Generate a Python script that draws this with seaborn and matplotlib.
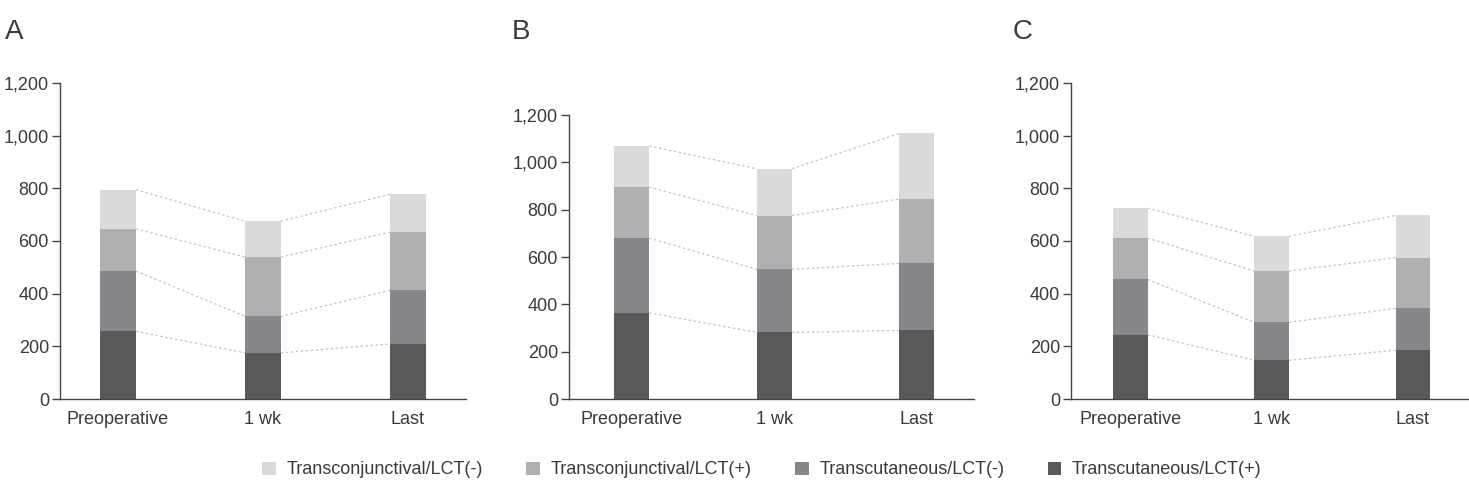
import numpy as np
import pandas as pd
import matplotlib
matplotlib.use("Agg")
import matplotlib.pyplot as plt
import seaborn as sns
from matplotlib.patches import Patch

timepoints = ["Preoperative", "1 wk", "Last"]
series = ["Transcutaneous/LCT(+)", "Transcutaneous/LCT(-)",
          "Transconjunctival/LCT(+)", "Transconjunctival/LCT(-)"]
colors = ["#58595b", "#86878a", "#afb0b2", "#d9dadb"]

# values per panel: one list per series (bottom to top), one value per timepoint
A_tcut_pos = [257, 175, 209]
A_tcut_neg = [229, 139, 204]
A_tconj_pos = [160, 225, 221]
A_tconj_neg = [149, 136, 144]

B_tcut_pos = [364, 281, 290]
B_tcut_neg = [316, 267, 283]
B_tconj_pos = [215, 227, 272]
B_tconj_neg = [174, 198, 277]

C_tcut_pos = [244, 147, 185]
C_tcut_neg = [210, 144, 159]
C_tconj_pos = [157, 195, 193]
C_tconj_neg = [114, 132, 160]

panels = {
    "A": [A_tcut_pos, A_tcut_neg, A_tconj_pos, A_tconj_neg],
    "B": [B_tcut_pos, B_tcut_neg, B_tconj_pos, B_tconj_neg],
    "C": [C_tcut_pos, C_tcut_neg, C_tconj_pos, C_tconj_neg],
}
yticks = [0, 200, 400, 600, 800, 1000, 1200]

sns.set_theme(style="white")
plt.rcParams["font.family"] = ["Liberation Sans", "DejaVu Sans"]
txt = "#3a3a3a"

fig = plt.figure(figsize=(14.69, 4.84), dpi=100)
W, H = 1469, 484
boxes = {
    "A": (60, 466, 83, 399, -0.40, 2.40),
    "B": (569, 974, 115, 399, -0.44, 2.40),
    "C": (1071, 1468, 83, 399, -0.42, 2.39),
}
letter_x = {"A": 5, "B": 512, "C": 1013}
bw = 0.245

for key, vals in panels.items():
    l, r, t, b, x0, x1 = boxes[key]
    ax = fig.add_axes([l / W, (H - b) / H, (r - l) / W, (b - t) / H])
    arr = np.array(vals, dtype=float)
    cum = np.cumsum(arr, axis=0)
    # draw from top (total) down so lower stacks overlay
    for k in range(len(series) - 1, -1, -1):
        df = pd.DataFrame({"time": timepoints, "value": cum[k]})
        sns.barplot(data=df, x="time", y="value", color=colors[k],
                    width=bw, saturation=1, ax=ax, order=timepoints,
                    edgecolor="none", linewidth=0)
    # dashed connector lines
    for k in range(len(series)):
        for i in range(len(timepoints) - 1):
            ax.plot([i + bw / 2, i + 1 - bw / 2], [cum[k][i], cum[k][i + 1]],
                    ls=(0, (2, 2)), color="#c4c4c4", lw=0.9, zorder=0)
    ax.set_xlim(x0, x1)
    ax.set_ylim(0, 1200)
    ax.set_yticks(yticks)
    ax.set_yticklabels([f"{v:,}" for v in yticks])
    ax.set_xlabel("")
    ax.set_ylabel("")
    for s in ["top", "right"]:
        ax.spines[s].set_visible(False)
    for s in ["left", "bottom"]:
        ax.spines[s].set_color("#444444")
        ax.spines[s].set_linewidth(1.0)
    ax.tick_params(axis="y", which="both", left=True, length=6, width=1,
                   color="#444444", labelsize=13, labelcolor=txt, pad=2)
    ax.tick_params(axis="x", bottom=False, labelsize=13, labelcolor=txt, pad=3)
    fig.text(letter_x[key] / W, (H - 32) / H, key, fontsize=20, color=txt,
             ha="left", va="center")

order_leg = [3, 2, 1, 0]
handles = [Patch(facecolor=colors[k], edgecolor="none", label=series[k]) for k in order_leg]
fig.legend(handles=handles, loc="center", bbox_to_anchor=(762 / W, 14 / H),
           ncol=4, frameon=False, fontsize=13, handlelength=0.75, handleheight=0.75,
           handletextpad=0.6, columnspacing=2.4, labelcolor=txt)

fig.savefig("out.png", dpi=100)
